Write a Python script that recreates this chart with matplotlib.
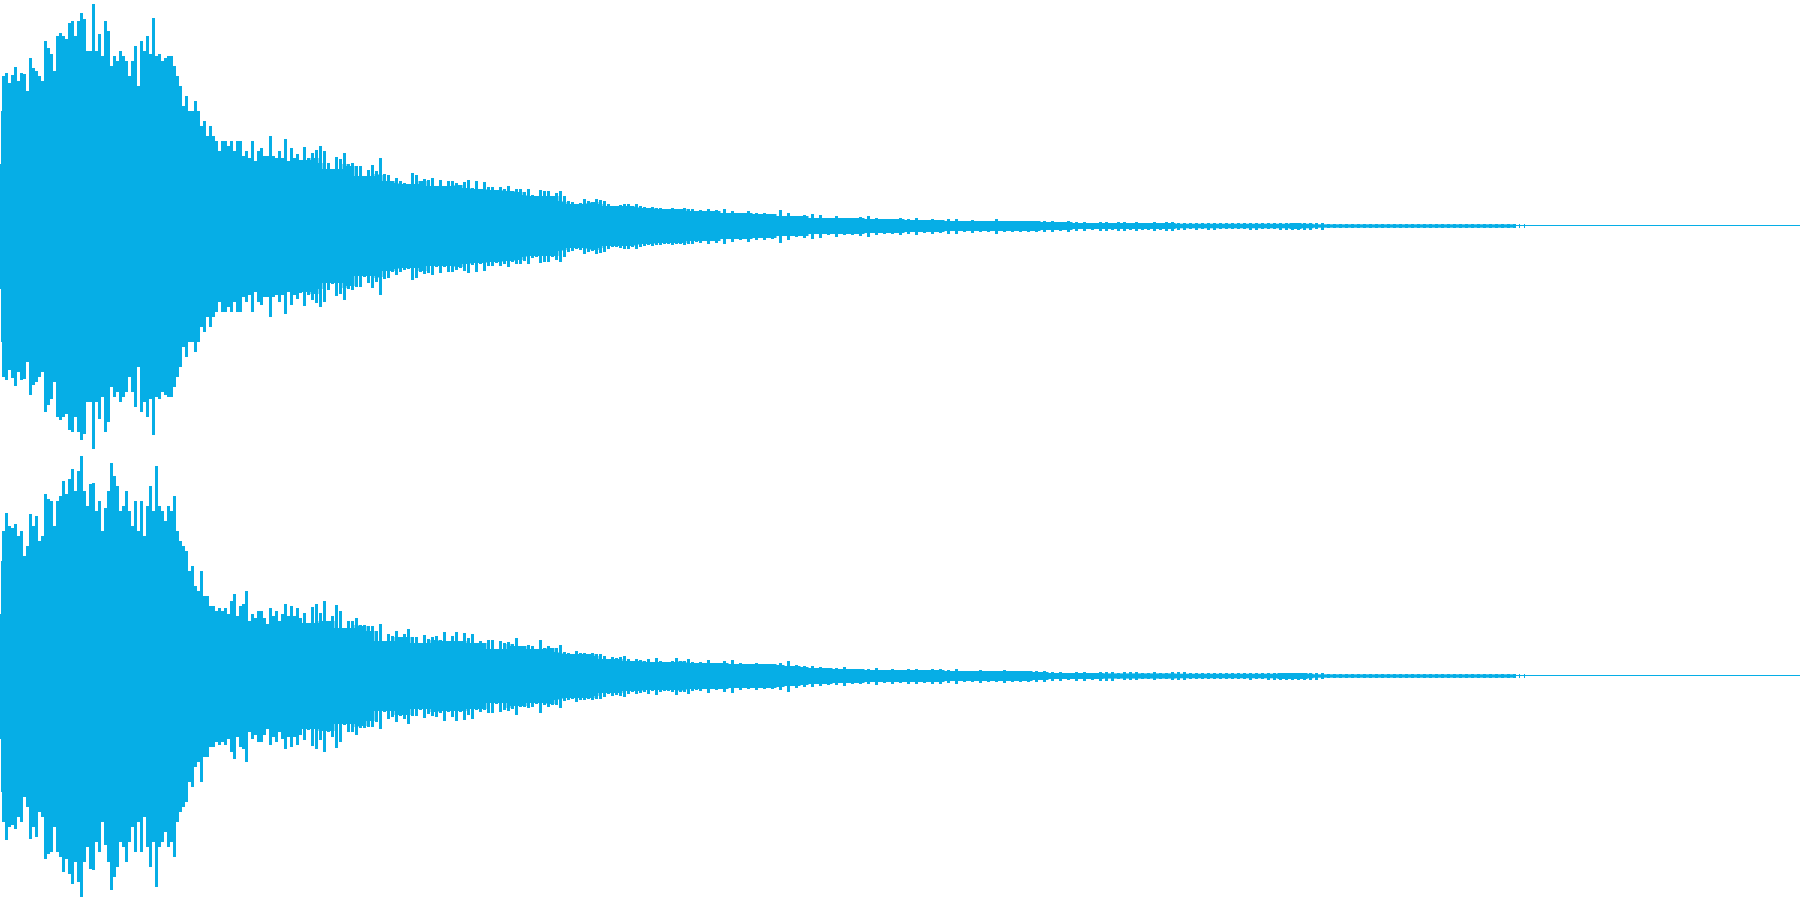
import numpy as np
import matplotlib
matplotlib.use("Agg")
import matplotlib.pyplot as plt

WAVE_COLOR = "#06AEE6"

# peak amplitude per segment (time units: ticks, full scale about 225)
intro_left = [30, 62, 115]
intro_right = [30, 62, 115]

attack_left = [150, 153, 143, 151, 159, 145, 153, 152, 135, 168, 158, 155, 150, 145, 185, 178, 172, 155, 190, 193,
               190, 187, 203, 205, 190, 205, 213, 207, 175, 175, 222, 175, 192, 170, 205, 195, 160, 170, 165, 175,
               170, 165, 150, 165, 180, 140, 185, 175, 190, 172, 208, 170, 172, 165, 168, 170, 170, 160, 150, 140,
               120, 130, 115, 115, 125, 115, 100, 105, 90, 100, 90, 85, 75, 85, 85, 80, 85, 75, 85, 85,
               70, 75, 68, 85, 65, 75, 78, 70, 70, 90, 70, 68, 75, 68, 87, 65, 78, 68, 72]
attack_right = [145, 163, 150, 148, 152, 140, 145, 120, 130, 162, 150, 160, 135, 140, 182, 177, 175, 150, 175, 180,
                195, 182, 197, 207, 185, 205, 220, 185, 170, 192, 193, 165, 175, 145, 168, 185, 213, 200, 190, 165,
                170, 185, 165, 150, 175, 145, 175, 140, 170, 190, 165, 210, 170, 165, 155, 170, 165, 180, 145, 135,
                130, 125, 105, 110, 90, 85, 105, 80, 80, 70, 70, 65, 68, 65, 68, 62, 75, 82, 60, 70,
                72, 85, 55, 62, 58, 65, 65, 58, 52, 68, 60, 65, 55, 62, 72, 60, 70, 60, 68]

decay_left = [66, 79, 68, 73, 76, 80, 75, 63, 57, 69, 67, 73, 62, 63, 60, 60, 50, 56, 61, 55,
              68, 52, 51, 45, 48, 45, 43, 42, 53, 51, 45, 47, 46, 48, 40, 46, 40, 45, 45, 43,
              41, 44, 46, 38, 45, 37, 44, 39, 39, 36, 39, 37, 40, 35, 37, 37, 34, 37, 31, 30,
              36, 35, 35, 30, 33, 35, 30, 25, 24, 22, 23, 27, 25, 24, 27, 26, 25, 22, 20, 20,
              21, 22, 22, 20, 22, 20, 19, 18, 19, 18, 18, 17, 17, 18, 17, 17, 18, 17, 17, 15]
decay_right = [58, 63, 53, 69, 72, 63, 75, 55, 60, 71, 65, 48, 55, 55, 58, 51, 51, 50, 50, 45,
               52, 35, 42, 40, 45, 39, 42, 47, 39, 39, 33, 41, 37, 39, 40, 36, 44, 35, 40, 44,
               35, 43, 38, 42, 33, 35, 33, 36, 36, 27, 35, 33, 34, 32, 38, 30, 30, 31, 30, 27,
               36, 28, 30, 28, 28, 31, 24, 23, 22, 25, 23, 23, 22, 23, 22, 22, 20, 17, 19, 18,
               19, 20, 17, 15, 17, 16, 15, 17, 14, 18, 15, 14, 14, 15, 18, 15, 15, 17, 14, 13]

tail_left = [16, 17, 16, 17, 15, 13, 15, 13, 13, 12, 16, 13, 10, 11, 12, 11, 8, 10, 8, 8,
             9, 10, 8, 7, 7, 8, 7, 8, 6, 7, 6, 7, 7, 5, 6, 5, 5, 7, 5, 5,
             5, 5, 5, 5, 5, 4, 5, 4, 4, 3]
tail_right = [14, 16, 13, 15, 16, 13, 12, 13, 12, 12, 13, 15, 11, 10, 10, 9, 8, 8, 9, 7,
              7, 7, 8, 6, 7, 6, 7, 7, 6, 7, 7, 6, 7, 5, 5, 6, 5, 5, 6, 5,
              5, 5, 5, 5, 4, 4, 3, 4, 4, 3]

fade_left = [4, 4, 3, 4, 4, 3, 4, 3, 3, 4, 3, 4, 4, 3, 3, 2.3, 3, 2.3, 3, 3,
             2.3, 2.3, 2.3, 2.3, 2.3, 3, 3, 2.3, 2.3, 2.3, 3, 3, 3, 3, 3, 3, 2.3, 3,
             1.7, 1.7, 1.7, 1.7, 1.7, 1.7, 1.7, 1.7, 1.7, 1.7, 1.7, 1.7, 1.7, 1.7, 1.7, 1.7,
             1.7, 1.7, 1.7, 1.7, 1.7, 1.7, 1.7, 1.7, 1.7, 1.7, 1.7, 1.7, 1.7, 1.7, 1.7, 1.7]
fade_right = [4, 4, 4, 2.6, 3.5, 3.5, 3.5, 2.6, 2.6, 3.5, 2.6, 2.6, 3.5, 3.5, 3.5, 2.3, 2.3, 2.3, 2.3, 2.3,
              2.3, 2.3, 2.3, 2.3, 2.3, 3, 2.3, 2.3, 3, 3, 3, 3, 3, 3, 3, 3, 3, 2.3,
              1.7, 1.7, 1.7, 1.7, 1.7, 1.7, 1.7, 1.7, 1.7, 1.7, 1.7, 1.7, 1.7, 1.7, 1.7, 1.7,
              1.7, 1.7, 1.7, 1.7, 1.7, 1.7, 1.7, 1.7, 1.7, 1.7, 1.7, 1.7, 1.7, 1.7, 1.7, 1.7]

late_click_times = [1519, 1524]
late_click_values = [1.7, 1.7]
silence_times = [1514, 1800]
silence_values = [0.5, 0.5]


def assemble(*parts):
    times, values = [], []
    for start, step, vals in parts:
        times.append(start + step * np.arange(len(vals)))
        values.append(np.asarray(vals, dtype=float))
    return np.concatenate(times), np.concatenate(values)


def draw(ax, t, a):
    # solid body below the peaks: the smallest peak within a small window
    pad = np.r_[a[0], a[0], a, a[-1], a[-1]]
    body = np.lib.stride_tricks.sliding_window_view(pad, 5).min(axis=1)
    ax.fill_between(t, -body, body, step="mid", color=WAVE_COLOR, lw=0, antialiased=False)
    ax.vlines(t, -a, a, color=WAVE_COLOR, lw=1.05, antialiased=False)
    ax.vlines(late_click_times, -np.array(late_click_values), late_click_values,
              color=WAVE_COLOR, lw=0.72, antialiased=False)
    ax.fill_between(silence_times, -np.array(silence_values), silence_values,
                    color=WAVE_COLOR, lw=0, antialiased=False)
    ax.set_xlim(0, 1800)
    ax.set_ylim(-224.5, 225.5)
    ax.axis("off")


fig = plt.figure(figsize=(18, 9), dpi=100, facecolor="white")
ax1 = fig.add_axes([0, 0.5, 1, 0.5])
ax2 = fig.add_axes([0, 0, 1, 0.5])

t1, a1 = assemble((0, 1, intro_left), (3, 3, attack_left), (300, 4, decay_left),
                  (700, 8, tail_left), (1100, 6, fade_left))
t2, a2 = assemble((0, 1, intro_right), (3, 3, attack_right), (300, 4, decay_right),
                  (700, 8, tail_right), (1100, 6, fade_right))
draw(ax1, t1, a1)
draw(ax2, t2, a2)

fig.savefig("out.png", dpi=100, facecolor="white")
